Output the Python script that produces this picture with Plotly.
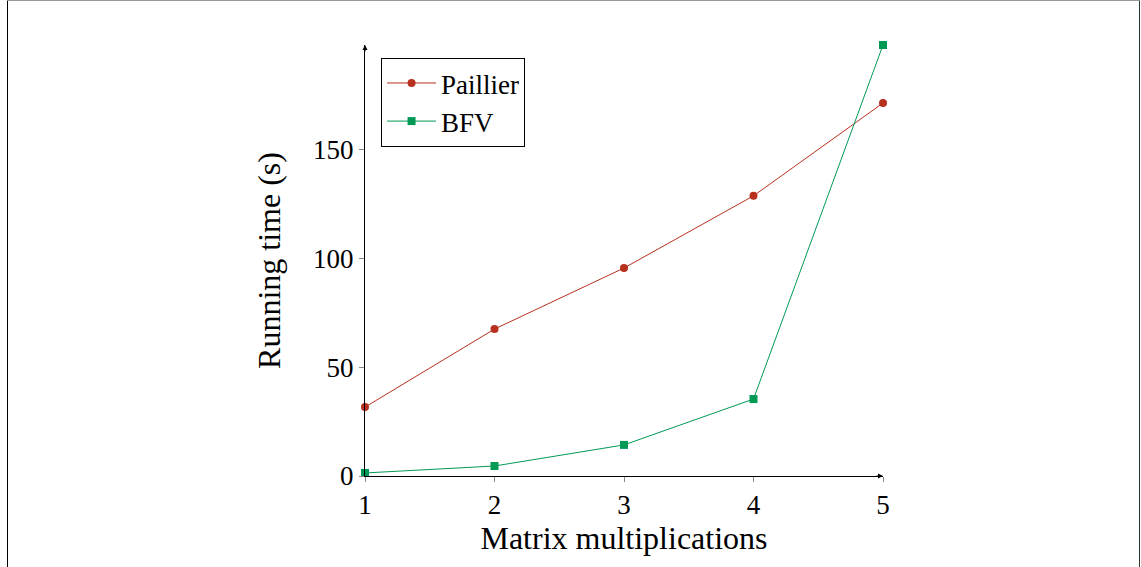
import plotly.graph_objects as go

x_vals = [1, 2, 3, 4, 5]
paillier = [31.7, 67.6, 95.7, 128.9, 171.6]
bfv = [1.4, 4.6, 14.3, 35.4, 198.3]
y_ticks = [0, 50, 100, 150]

RED = "#b8301e"
GREEN = "#009a55"
FONT = "Liberation Serif"
FS = 27

L, R, T, B = 365, 258, 45, 91
W, H = 1141, 567
PW, PH = W - L - R, H - T - B


def px(xp):
    return (xp - L) / PW


def py(yp):
    return (H - B - yp) / PH


fig = go.Figure()
fig.add_trace(go.Scatter(x=x_vals, y=paillier, name="Paillier", mode="lines+markers",
                         line=dict(color=RED, width=1),
                         marker=dict(symbol="circle", size=8, color=RED), cliponaxis=False))
fig.add_trace(go.Scatter(x=x_vals, y=bfv, name="BFV", mode="lines+markers",
                         line=dict(color=GREEN, width=1),
                         marker=dict(symbol="square", size=8, color=GREEN), cliponaxis=False))

fig.update_layout(
    width=W, height=H,
    margin=dict(l=L, r=R, t=T, b=B),
    plot_bgcolor="white", paper_bgcolor="white",
    font=dict(family=FONT, size=FS, color="black"),
    showlegend=True,
    legend=dict(x=0.031, y=0.970, xanchor="left", yanchor="top",
                bordercolor="black", borderwidth=1, bgcolor="white",
                font=dict(family=FONT, size=FS), itemwidth=49,
                tracegroupgap=0),
    xaxis=dict(range=[1, 5], tickvals=x_vals, showgrid=False, zeroline=False,
               showline=True, linecolor="black", linewidth=1,
               ticks="outside", ticklen=5, tickcolor="#888",
               title=dict(text="Matrix multiplications", standoff=4),
               tickfont=dict(size=FS)),
    yaxis=dict(range=[0, 198.3], tickvals=y_ticks, showgrid=False, zeroline=False,
               showline=True, linecolor="black", linewidth=1,
               ticks="outside", ticklen=5, tickcolor="#888",
               title=dict(text="Running time (s)", standoff=22),
               tickfont=dict(size=FS)),
    shapes=[
        dict(type="line", xref="paper", yref="paper", x0=px(7.5), x1=px(7.5),
             y0=py(0.5), y1=py(600), line=dict(color="black", width=1), layer="below"),
        dict(type="line", xref="paper", yref="paper", x0=px(7.5), x1=px(1139.5),
             y0=py(0.5), y1=py(0.5), line=dict(color="#999", width=1), layer="below"),
        dict(type="line", xref="paper", yref="paper", x0=px(1139.5), x1=px(1139.5),
             y0=py(0.5), y1=py(600), line=dict(color="#333", width=1), layer="below"),
    ],
    annotations=[
        dict(x=1, y=198.3, xref="x", yref="y", ax=0, ay=8, axref="pixel", ayref="pixel",
             showarrow=True, arrowhead=2, arrowsize=1, arrowwidth=1, arrowcolor="black", text=""),
        dict(x=5, y=0, xref="x", yref="y", ax=-8, ay=0, axref="pixel", ayref="pixel",
             showarrow=True, arrowhead=2, arrowsize=1, arrowwidth=1, arrowcolor="black", text=""),
    ],
)

fig.write_html("out.html", config={"displayModeBar": False},
               post_script="document.body.style.margin='0';")
